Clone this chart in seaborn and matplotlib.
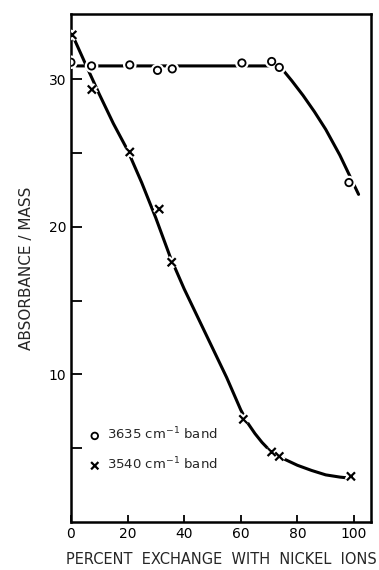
import numpy as np
import pandas as pd
import matplotlib
matplotlib.use("Agg")
import matplotlib.pyplot as plt
import matplotlib.patheffects as pe
import seaborn as sns

x_3635 = [0, 7.3, 20.8, 30.6, 35.8, 60.4, 70.9, 73.6, 98.2]
y_3635 = [31.15, 30.9, 30.97, 30.6, 30.7, 31.1, 31.2, 30.8, 23.0]
x_3540 = [0.5, 7.4, 20.8, 31.2, 35.6, 60.9, 70.9, 73.6, 98.9]
y_3540 = [33.0, 29.3, 25.07, 21.2, 17.6, 6.96, 4.75, 4.45, 3.1]

# Curvas dibujadas a mano (trazadas sobre la figura)
cx_3635 = [0, 2, 10, 20, 30, 40, 50, 60, 70, 73.6, 75, 78, 82, 86, 90, 95, 101.6]
cy_3635 = [31.1, 30.9, 30.9, 30.9, 30.9, 30.9, 30.9, 30.9, 30.9, 30.8, 30.6, 29.9,
           28.9, 27.8, 26.6, 24.85, 22.2]
cx_3540 = [0.3, 5, 10, 15, 17.5, 20, 22.5, 25, 30, 35, 40, 45, 50, 55, 57.5, 60,
           62.5, 65, 67.5, 70, 72.5, 75, 80, 85, 90, 95, 97.5]
cy_3540 = [33.1, 31.1, 29.0, 27.0, 26.1, 25.2, 24.1, 23.0, 20.6, 18.0, 15.8, 13.8,
           11.8, 9.8, 8.7, 7.6, 6.7, 6.0, 5.4, 4.9, 4.55, 4.3, 3.85, 3.5, 3.2, 3.05, 3.0]

x_ticks = [0, 20, 40, 60, 80, 100]
y_ticks = [10, 20, 30]
y_minor = [5, 15, 25]

sns.set_style("ticks")
plt.rcParams["font.family"] = ["DejaVu Sans"]

fig = plt.figure(figsize=(3.79, 5.70), dpi=100)
ax = fig.add_axes([0.187, 0.084, 0.792, 0.891])

sns.lineplot(x=cx_3635, y=cy_3635, ax=ax, color="black", lw=2.2, sort=False,
             estimator=None, zorder=2)
sns.lineplot(x=cx_3540, y=cy_3540, ax=ax, color="black", lw=2.2, sort=False,
             estimator=None, zorder=2)

halo = [pe.Stroke(linewidth=4.5, foreground="white"), pe.Normal()]
sns.scatterplot(x=x_3635, y=y_3635, ax=ax, marker="o", s=28, facecolor="white",
                edgecolor="black", linewidth=1.3, zorder=3,
                label="3635 cm$^{-1}$ band")
sns.scatterplot(x=x_3540, y=y_3540, ax=ax, marker="x", s=34, color="black",
                linewidth=1.6, zorder=3, label="3540 cm$^{-1}$ band")
for coll in ax.collections:
    coll.set_path_effects(halo)

ax.set_xlim(0, 106)
ax.set_ylim(0, 34.4)
ax.set_xticks(x_ticks)
ax.set_yticks(y_ticks)
ax.set_yticks(y_minor, minor=True)
ax.tick_params(axis="both", which="both", direction="in", width=1.3, colors="black",
               labelsize=10)
ax.tick_params(axis="x", which="major", length=5)
ax.tick_params(axis="y", which="both", length=8)
for s in ax.spines.values():
    s.set_visible(True)
    s.set_linewidth(1.8)
    s.set_color("black")

ax.set_xlabel("PERCENT  EXCHANGE  WITH  NICKEL  IONS", fontsize=10.5, labelpad=8)
ax.set_ylabel("ABSORBANCE / MASS", fontsize=11, labelpad=10)

leg = ax.legend(loc="center left", bbox_to_anchor=(0.04, 0.144), frameon=False,
                fontsize=9.5, handletextpad=0.4, borderaxespad=0, labelspacing=1.0,
                markerscale=0.9, handlelength=1.0)

fig.savefig("out.png", dpi=100)
